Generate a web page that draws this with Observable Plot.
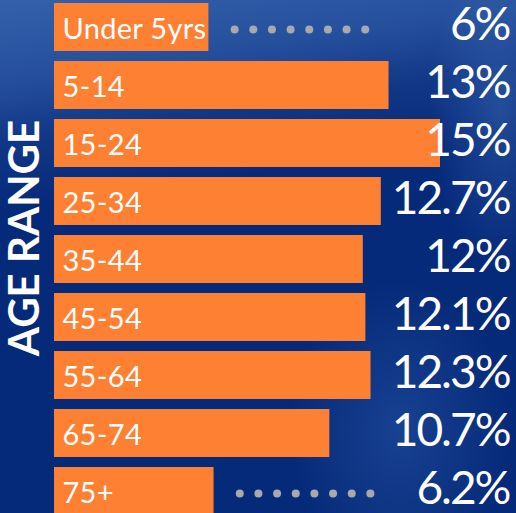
<!DOCTYPE html>
<html><head><meta charset="utf-8">
<script src="https://cdn.jsdelivr.net/npm/d3@7"></script>
<script src="https://cdn.jsdelivr.net/npm/@observablehq/plot@0.6"></script>
<style>
html,body{margin:0;padding:0;width:516px;height:513px;overflow:hidden;}
body{
  background:
    radial-gradient(ellipse 70px 160px at 500px 110px, rgba(80,130,200,0.35), rgba(80,130,200,0) 100%),
    radial-gradient(ellipse 110px 150px at 400px 430px, rgba(60,110,190,0.35), rgba(60,110,190,0) 100%),
    linear-gradient(172deg, rgba(60,105,180,0.85) 0%, rgba(50,95,170,0.7) 14%, rgba(35,75,155,0.4) 24%, rgba(10,45,125,0) 36%),
    #062a7a;
}
#chart svg{background:transparent !important;display:block;}
</style></head><body><div id="chart"></div>
<script>
const categories = ["Under 5yrs","5-14","15-24","25-34","35-44","45-54","55-64","65-74","75+"];
const values = [6, 13, 15, 12.7, 12, 12.1, 12.3, 10.7, 6.2];
const valueLabels = ["6%","13%","15%","12.7%","12%","12.1%","12.3%","10.7%","6.2%"];
const axisTitle = "AGE RANGE";

const rows = categories.map((c, i) => ({category: c, value: values[i], label: valueLabels[i]}));

// dotted leaders for short bars
const leaderCount = 8;
const leaders = rows.filter(d => d.value < 7).flatMap(d =>
  d3.range(leaderCount).map(k => ({category: d.category, x: d.value + 1.0 + k * 0.725}))
);

const chart = Plot.plot({
  width: 516,
  height: 513,
  margin: 0,
  marginRight: 7,
  style: {background: "transparent", overflow: "hidden"},
  x: {domain: [0, 15], range: [54, 440], axis: null},
  y: {domain: categories, range: [3, 518.2], paddingInner: 0.168, paddingOuter: 0, align: 0, axis: null},
  marks: [
    Plot.barX(rows, {x: "value", y: "category", fill: "#fe8033"}),
    Plot.dot(leaders, {x: "x", y: "category", r: 4, fill: "#a9a9ab", stroke: null, dy: 2}),
    Plot.text(rows, {x: 0, y: "category", text: "category", textAnchor: "start", dx: 8, dy: 2,
      fill: "white", fontSize: 29, fontFamily: "Lato", fontWeight: 400}),
    Plot.text(rows, {frameAnchor: "right", y: "category", text: "label", textAnchor: "end", dy: -2,
      fill: "white", fontSize: 46, fontFamily: "Lato", fontWeight: 400}),
    Plot.text([axisTitle], {frameAnchor: "left", text: d => d, rotate: -90, textAnchor: "middle", dx: 25, dy: -19,
      fill: "white", fontSize: 42, fontFamily: "Lato", fontWeight: 700})
  ]
});
const textGroups = chart.querySelectorAll("g[aria-label='text']");
textGroups[0]?.setAttribute("letter-spacing", "0.3");
textGroups[1]?.setAttribute("letter-spacing", "-2");
document.getElementById("chart").append(chart);
</script>
</body></html>
